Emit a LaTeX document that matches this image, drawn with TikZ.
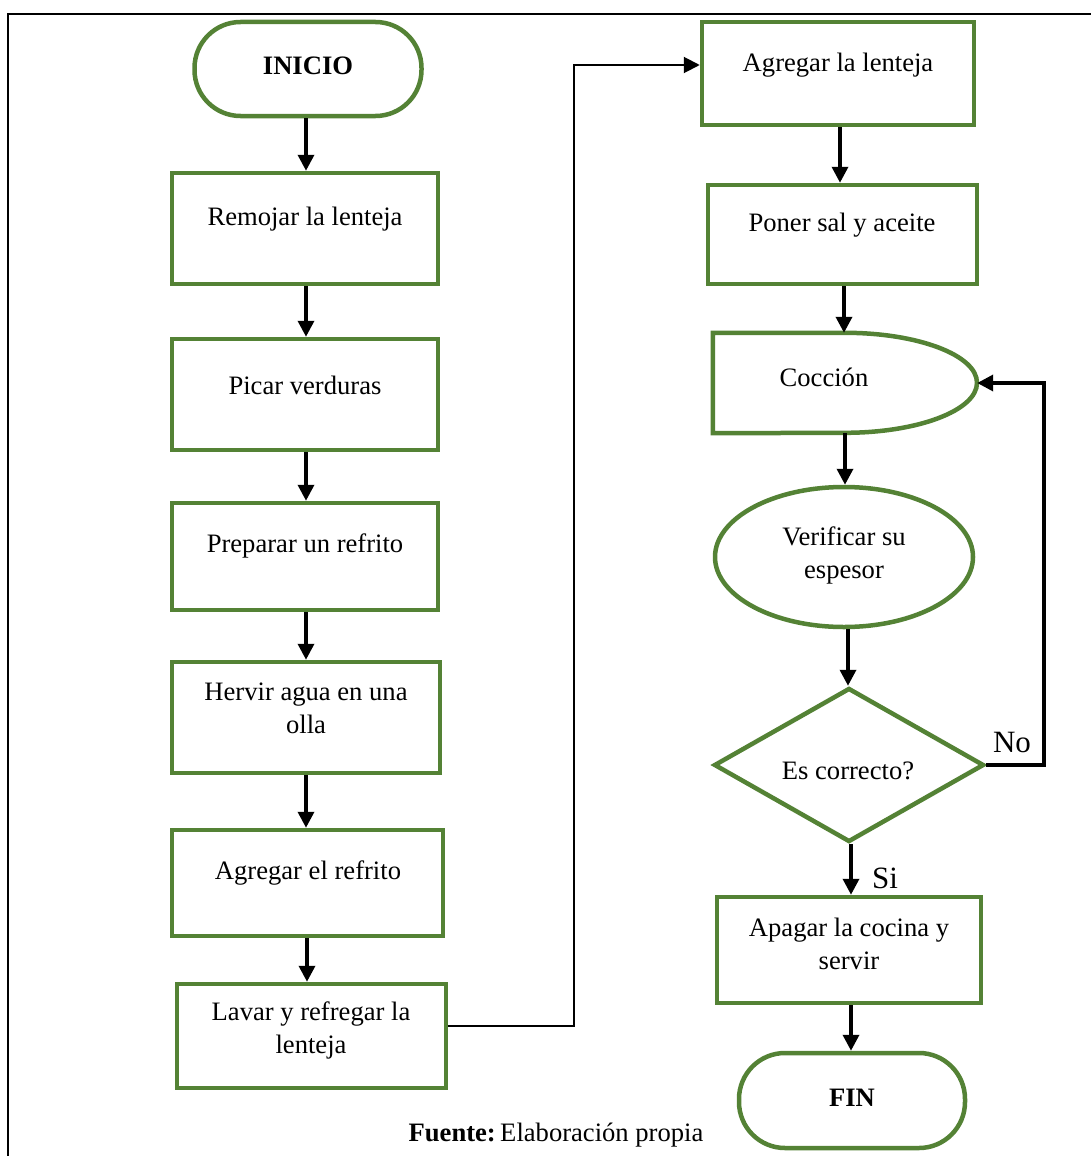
\documentclass[tikz,border=0pt]{standalone}
\usepackage{fontspec}
\setmainfont{Liberation Serif}
\usetikzlibrary{arrows.meta,shapes.geometric}
\definecolor{leaf}{RGB}{84,130,53}
\begin{document}
\begin{tikzpicture}[x=1pt,y=-1pt,
  font=\fontsize{26.6}{33}\selectfont,
  stepbox/.style={draw=leaf,line width=4.5pt,rectangle,inner sep=0pt,fill=white},
  endbox/.style={draw=leaf,line width=4.5pt,rectangle,rounded corners=46pt,inner sep=0pt,fill=white},
  txt/.style={align=center,inner sep=0pt},
  arr/.style={draw=black,line width=3.5pt,-{Triangle[length=16pt,width=16pt]}},
  tag/.style={inner sep=0pt,font=\fontsize{31}{36}\selectfont}]
\useasboundingbox (0,0) rectangle (1091,1156);
% outer frame
\draw[line width=2.5pt] (8,1156) -- (8,14) -- (1091,14);

% left column
\node[endbox,minimum width=227pt,minimum height=94pt] (ini) at (308,69) {};
\node[txt,font=\fontsize{26.6}{33}\selectfont\bfseries] at (308,66) {INICIO};
\node[stepbox,minimum width=266pt,minimum height=111pt] (b1) at (305,228.5) {};
\node[txt] at (305,219) {Remojar la lenteja};
\node[stepbox,minimum width=266pt,minimum height=111pt] (b2) at (305,394.5) {};
\node[txt] at (305,385) {Picar verduras};
\node[stepbox,minimum width=266pt,minimum height=107pt] (b3) at (305,556.5) {};
\node[txt] at (305,546) {Preparar un refrito};
\node[stepbox,minimum width=268pt,minimum height=111pt] (b4) at (306,717.5) {};
\node[txt] at (306,708) {Hervir agua en una\\olla};
\node[stepbox,minimum width=271pt,minimum height=106pt] (b5) at (307.5,883) {};
\node[txt] at (308,873) {Agregar el refrito};
\node[stepbox,minimum width=269pt,minimum height=104pt] (b6) at (311.5,1036) {};
\node[txt] at (311,1030) {Lavar y refregar la\\lenteja};

% right column
\node[stepbox,minimum width=272pt,minimum height=103pt] (r1) at (838,73.5) {};
\node[txt] at (838,65) {Agregar la lenteja};
\node[stepbox,minimum width=269pt,minimum height=99pt] (r2) at (842.5,234.5) {};
\node[txt] at (842,225) {Poner sal y aceite};
\node[inner sep=0pt,minimum width=264pt,minimum height=100pt] (coc) at (845,383) {};
\draw[draw=leaf,line width=4.5pt,fill=white] (coc.north west) -- (coc.north)
  arc[start angle=90,end angle=-90,x radius=132pt,y radius=50pt] -- (coc.south west) -- cycle;
\node[txt] at (824,377) {Cocción};
\node[draw=leaf,line width=4.5pt,ellipse,inner sep=0pt,minimum width=258pt,minimum height=140pt,fill=white] (ver) at (844,557) {};
\node[txt] at (844,555) {Verificar su\\espesor};
\node[draw=leaf,line width=4.5pt,diamond,inner sep=0pt,minimum width=270pt,minimum height=154pt,fill=white] (dia) at (849,765) {};
\node[txt] at (848,771) {Es correcto?};
\node[stepbox,minimum width=264pt,minimum height=106pt] (r3) at (849,950) {};
\node[txt] at (849,944) {Apagar la cocina y\\servir};
\node[endbox,minimum width=226pt,minimum height=95pt] (fin) at (852,1100.5) {};
\node[txt,font=\fontsize{26.6}{33}\selectfont\bfseries] at (852,1098) {FIN};

% connectors, left column
\draw[arr] (ini.south -| 306,0) -- (b1.north -| 306,0);
\draw[arr] (b1.south -| 306,0) -- (b2.north -| 306,0);
\draw[arr] (b2.south -| 306,0) -- (b3.north -| 306,0);
\draw[arr] (b3.south -| 306,0) -- (b4.north -| 306,0);
\draw[arr] (b4.south -| 306,0) -- (b5.north -| 306,0);
\draw[arr] (b5.south -| 307,0) -- (b6.north -| 307,0);
% transfer to the right column
\coordinate (up) at (574,1026);
\coordinate (over) at (574,65);
\draw[arr,line width=2pt] (b6.east |- up) -- (up) -- (over) -- (over -| r1.west);
% connectors, right column
\draw[arr] (r1.south -| 840,0) -- (r2.north -| 840,0);
\draw[arr] (r2.south -| 844,0) -- (coc.north -| 844,0);
\draw[arr] (coc.south -| 845,0) -- (ver.north -| 845,0);
\draw[arr] (ver.south -| 848,0) -- (dia.north -| 848,0);
\draw[arr] (dia.south -| 851,0) -- (r3.north -| 851,0);
\draw[arr] (r3.south -| 851,0) -- (fin.north -| 851,0);
% loop back when the thickness is not right
\coordinate (back) at (1044,765);
\draw[arr] (dia.east) -- (back) |- (coc.east);
\node[tag] at (1012,742) {No};
\node[tag] at (885,878) {Si};

% source note
\node[txt] at (556,1135) {\textbf{Fuente:}\,Elaboración propia};
\end{tikzpicture}
\end{document}
